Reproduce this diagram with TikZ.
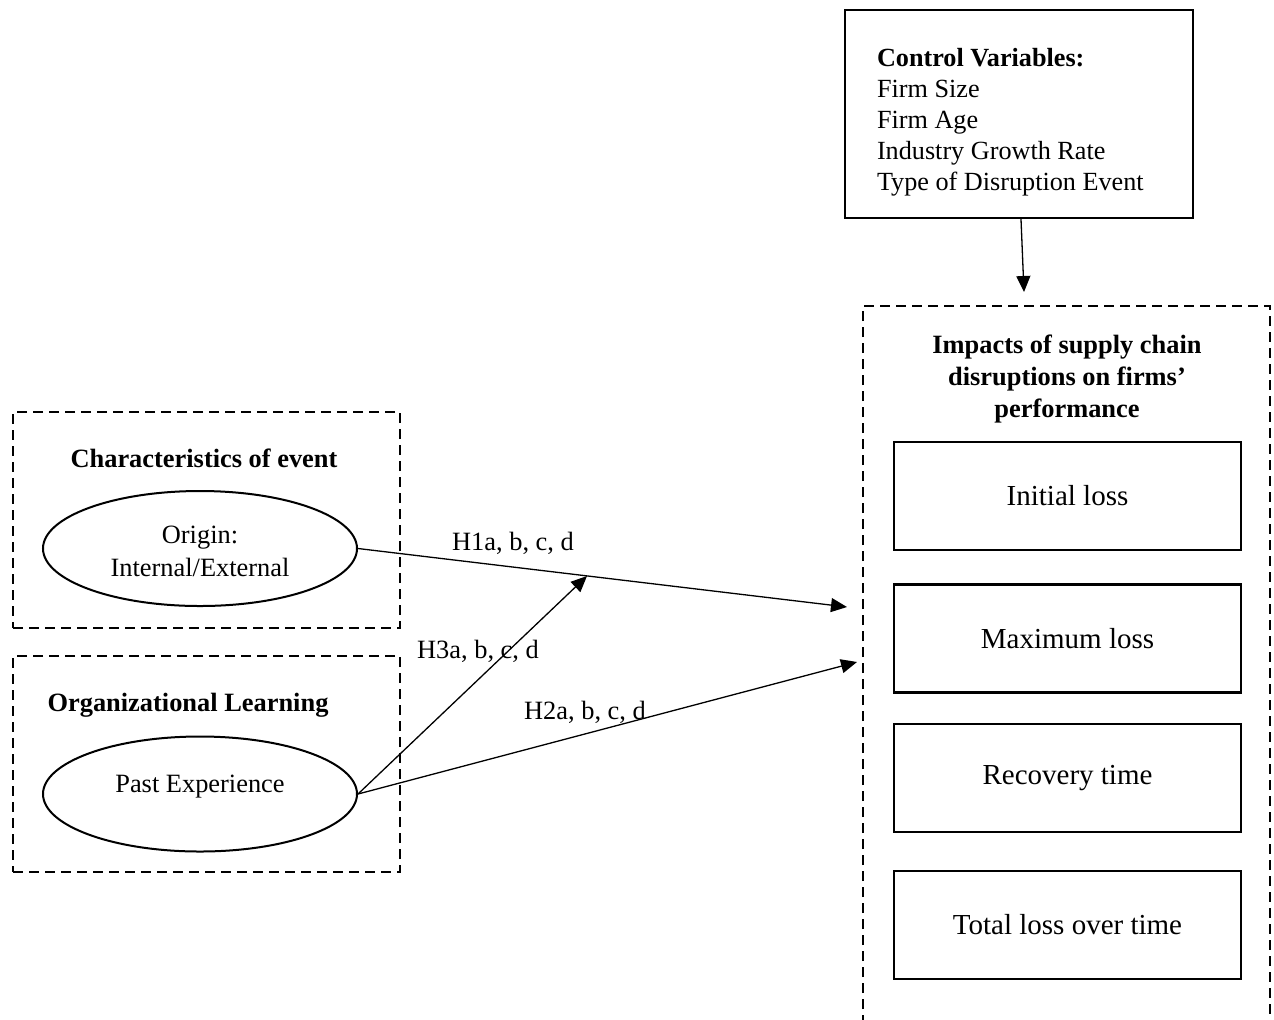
\documentclass[tikz,border=0pt]{standalone}
\usepackage{fontspec}
\setmainfont{Liberation Serif}
\usetikzlibrary{shapes.geometric,arrows.meta}
\begin{document}
\begin{tikzpicture}[x=0.5pt,y=-0.5pt,
  solidbox/.style={draw,line width=1.2pt,rectangle,inner sep=0pt,minimum width=173.5pt,minimum height=54pt,font=\fontsize{14.5}{17}\selectfont},
  dashbox/.style={draw,line width=1pt,dash pattern=on 5pt off 3pt},
  ovalnode/.style={draw,line width=1pt,ellipse,inner sep=0pt,minimum width=157pt,minimum height=57.5pt,align=center,font=\fontsize{13.2}{16}\selectfont},
  arr/.style={line width=0.65pt,-{Triangle[length=8pt,width=7pt]}},
  lbl/.style={font=\fontsize{13.2}{15}\selectfont,inner sep=0pt},
  ttl/.style={font=\fontsize{13.2}{16.2}\selectfont\bfseries,align=center,inner sep=0pt}]
\useasboundingbox (0,0) rectangle (1274,1019);
% control variables
\node[draw,line width=1.2pt,rectangle,minimum width=174pt,minimum height=104pt,inner xsep=16pt,inner ysep=0pt,font=\fontsize{13.1}{15.5}\selectfont] (ctrl) at (1019,114)
  {\raisebox{-4pt}[\height][\depth]{\parbox{142pt}{\raggedright\textbf{Control Variables:}\\Firm Size\\Firm Age\\Industry Growth Rate\\Type of Disruption Event}}};
% right dashed box (open bottom)
\coordinate (impact) at (1067,306);
\draw[dashbox] (863,1025) -- (863,306) -- (1270,306) -- (1270,1025);
\node[ttl] (ititle) at (1067,379) {Impacts of supply chain\\disruptions on firms'\\performance};
\node[solidbox] (b1) at (1067.5,496) {Initial loss};
\node[solidbox] (b2) at (1067.5,638.5) {Maximum loss};
\node[solidbox] (b3) at (1067.5,778) {Recovery time};
\node[solidbox] (b4) at (1067.5,925) {Total loss over time};
% left dashed boxes
\node[dashbox,rectangle,minimum width=193.5pt,minimum height=108pt,inner sep=0pt] (char) at (206.5,520) {};
\node[ttl] (ctitle) at (204,458) {Characteristics of event};
\node[ovalnode] (origin) at (200,548.5) {\raisebox{-1.5pt}[\height][\depth]{\shortstack{Origin:\\[1.5pt]Internal/External}}};
\node[dashbox,rectangle,minimum width=193.5pt,minimum height=108pt,inner sep=0pt] (org) at (206.5,764) {};
\node[ttl] (otitle) at (188,705) {Organizational Learning};
\node[ovalnode] (past) at (200,794) {\raisebox{3.5pt}[\height][\depth]{Past Experience}};
% connectors
\coordinate (h1end) at (847,607);
\coordinate (h2end) at (857,662);
\coordinate (h3end) at (587,576);
\coordinate (ctip) at (1024,292);
\draw[arr] (origin.east) -- (h1end);
\draw[arr] (past.east) -- (h2end);
\draw[arr] (past.east) -- (h3end);
\draw[arr] ([xshift=1pt]ctrl.south) -- (ctip);
\node[lbl] (l1) at (513,543) {H1a, b, c, d};
\node[lbl] (l3) at (478,651) {H3a, b, c, d};
\node[lbl] (l2) at (585,712) {H2a, b, c, d};
\end{tikzpicture}
\end{document}
